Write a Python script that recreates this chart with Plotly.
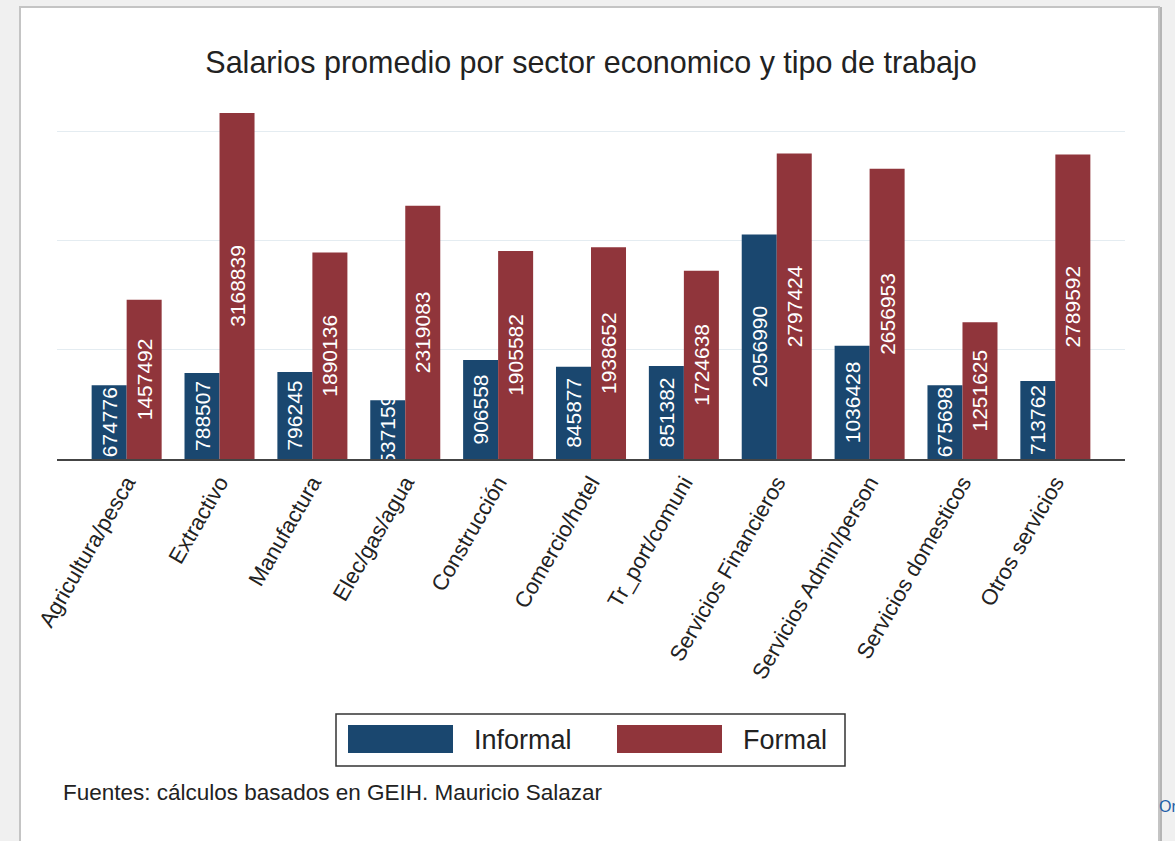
import plotly.graph_objects as go

categories = ["Agricultura/pesca", "Extractivo", "Manufactura", "Elec/gas/agua",
              "Construcción", "Comercio/hotel", "Tr_port/comuni",
              "Servicios Financieros", "Servicios Admin/person",
              "Servicios domesticos", "Otros servicios"]
informal = [674776, 788507, 796245, 537159, 906558, 845877, 851382,
            2056990, 1036428, 675698, 713762]
formal = [1457492, 3168839, 1890136, 2319083, 1905582, 1938652, 1724638,
          2797424, 2656953, 1251625, 2789592]
series_names = ["Informal", "Formal"]

title_text = "Salarios promedio por sector economico y tipo de trabajo"
note_text = "Fuentes: cálculos basados en GEIH. Mauricio Salazar"

NAVY = "#1a476f"
MAROON = "#90353b"
FONT = "Liberation Sans, Arial, sans-serif"

W, H = 1175, 841
L, R, T, B = 57, 50, 88, 382
PW, PH = W - L - R, H - T - B


def px(x):  # page pixel -> paper x
    return (x - L) / PW


def py(y):  # page pixel -> paper y
    return (H - B - y) / PH


fig = go.Figure()
for name, vals, col in zip(series_names, [informal, formal], [NAVY, MAROON]):
    fig.add_trace(go.Bar(
        name=name, x=categories, y=vals, marker=dict(color=col, line=dict(width=0)),
        text=[str(v) for v in vals], textposition="inside", insidetextanchor="middle",
        textangle=-90, constraintext="none",
        textfont=dict(color="white", size=21, family=FONT),
        hoverinfo="x+y+name", showlegend=False,
    ))

shapes = [dict(type="rect", xref="paper", yref="paper",
               x0=px(20), x1=px(1159), y0=py(860), y1=py(7),
               fillcolor="white", line=dict(color="#c4c4c4", width=2), layer="below"),
          dict(type="line", xref="paper", yref="paper",
               x0=px(1161), x1=px(1161), y0=py(860), y1=py(7),
               line=dict(color="#b5b5b5", width=2), layer="below"),
          # legend frame
          dict(type="rect", xref="paper", yref="paper",
               x0=px(336), x1=px(845), y0=py(766), y1=py(714),
               fillcolor="white", line=dict(color="#333", width=1.5), layer="above")]
annotations = [
    dict(text=note_text, xref="paper", yref="paper", x=px(61), y=py(792),
         xanchor="left", yanchor="middle", showarrow=False,
         font=dict(size=22.5, color="#222", family=FONT)),
    dict(text="Or", xref="paper", yref="paper", x=px(1157), y=py(806),
         xanchor="left", yanchor="middle", showarrow=False,
         font=dict(size=16, color="#1f5fa8", family=FONT)),
]
# legend entries (large swatches as in the reference)
for name, col, sx in zip(series_names, [NAVY, MAROON], [348, 617]):
    shapes.append(dict(type="rect", xref="paper", yref="paper",
                       x0=px(sx), x1=px(sx + 105), y0=py(753), y1=py(725),
                       fillcolor=col, line=dict(width=0), layer="above"))
    annotations.append(dict(text=name, xref="paper", yref="paper", x=px(sx + 124),
                            y=py(740), xanchor="left", yanchor="middle", showarrow=False,
                            font=dict(size=27, color="#222", family=FONT)))

fig.update_layout(
    width=W, height=H, autosize=False,
    margin=dict(l=L, r=R, t=T, b=B, pad=0),
    paper_bgcolor="#f0f0f0", plot_bgcolor="white",
    barmode="group", bargap=0.246, bargroupgap=0,
    font=dict(family=FONT, color="#222"),
    showlegend=False,
    title=dict(text=title_text, x=0.5, xref="paper", xanchor="center",
               y=1 - 62 / H, yref="container", yanchor="middle",
               font=dict(size=30.5, color="#222", family=FONT)),
    xaxis=dict(range=[-0.75, 10.75], showline=True, linecolor="#444", linewidth=2,
               ticks="", tickangle=-60, tickfont=dict(size=22, color="#222", family=FONT),
               showgrid=False, zeroline=False, fixedrange=True),
    yaxis=dict(range=[0, PH / 109.2 * 1e6], dtick=1e6, showgrid=True,
               gridcolor="#e4ecf1", gridwidth=1, showticklabels=False,
               zeroline=False, showline=False, ticks="", fixedrange=True),
    shapes=shapes,
    annotations=annotations,
)

fig.write_html("out.html",
               config={"displayModeBar": False},
               post_script="document.body.style.margin='0';"
                           "document.body.style.background='#f0f0f0';"
                           "document.documentElement.style.overflow='hidden';")
